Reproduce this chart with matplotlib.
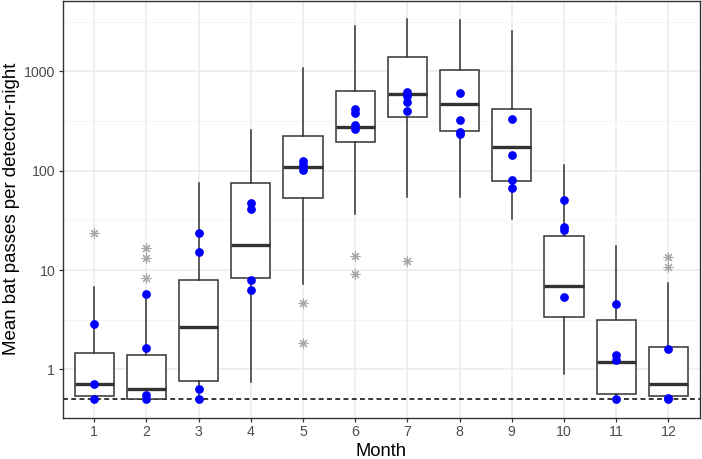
import matplotlib
matplotlib.use("Agg")
import matplotlib.pyplot as plt
from matplotlib.ticker import FixedLocator, NullFormatter

plt.rcParams['font.family'] = ['Liberation Sans', 'DejaVu Sans']

months = list(range(1, 13))

# box statistics
q1 = [0.54, 0.50, 0.76, 8.4, 53, 196, 350, 253, 78, 3.39, 0.57, 0.54]
med = [0.72, 0.63, 2.65, 18, 109, 276, 592, 470, 172, 6.9, 1.18, 0.72]
q3 = [1.47, 1.38, 7.9, 76, 224, 630, 1406, 1026, 415, 22, 3.13, 1.66]
whislo = [0.50, 0.50, 0.50, 0.74, 7.3, 36.4, 54.7, 54.7, 32.4, 0.90, 0.50, 0.50]
whishi = [6.7, 5.8, 75, 257, 1089, 2865, 3350, 3300, 2553, 114, 17.6, 7.45]
outliers = [[23.5], [16.8, 13.3, 8.4], [], [], [4.7, 1.83], [13.8, 9.1],
            [12.4], [], [], [], [], [13.6, 10.8]]

# highlighted site values (blue)
sites = [[2.88, 0.72, 0.50],
         [5.77, 1.65, 0.55, 0.50],
         [23.8, 15.1, 0.63, 0.50],
         [47, 40.8, 7.9, 6.3],
         [125, 113, 102],
         [420, 380, 285, 260],
         [620, 560, 496, 403],
         [611, 322, 247, 233],
         [330, 143, 80, 66.5],
         [51, 27, 25.5, 5.35],
         [4.58, 1.39, 1.24, 0.50],
         [1.59, 0.52, 0.50]]

detection_limit = 0.5

fig = plt.figure(figsize=(7.02, 4.59), dpi=100)
ax = fig.add_axes([0.0897, 0.09, 0.907, 0.908])

stats = []
for i in range(len(months)):
    stats.append(dict(med=med[i], q1=q1[i], q3=q3[i], whislo=whislo[i],
                      whishi=whishi[i], fliers=[]))

dark = '#333333'
ax.bxp(stats, positions=months, widths=0.75, showcaps=False, showfliers=False,
       patch_artist=True,
       boxprops=dict(facecolor='white', edgecolor=dark, linewidth=1.1),
       whiskerprops=dict(color=dark, linewidth=1.1),
       medianprops=dict(color=dark, linewidth=2.4, solid_capstyle='butt'),
       zorder=3)

# outliers drawn as grey asterisks
for m, vals in zip(months, outliers):
    ax.plot([m] * len(vals), vals, linestyle='none', marker=(8, 2, 0),
            markersize=7, markeredgecolor='#a6a6a6', markeredgewidth=0.8,
            zorder=4)

for m, vals in zip(months, sites):
    ax.plot([m] * len(vals), vals, linestyle='none', marker='o',
            markersize=6.3, color='#0000ff', markeredgewidth=0, zorder=5)

ax.axhline(detection_limit, color='black', linestyle=(0, (3.2, 2.2)),
           linewidth=1.1, zorder=2)

ax.set_yscale('log')
ax.set_ylim(0.326, 5115)
ax.set_xlim(0.4, 12.6)

ax.yaxis.set_major_locator(FixedLocator([1, 10, 100, 1000]))
ax.yaxis.set_minor_locator(FixedLocator([10 ** 0.5, 10 ** 1.5, 10 ** 2.5, 10 ** 3.5]))
ax.yaxis.set_minor_formatter(NullFormatter())
ax.set_yticklabels(['1', '10', '100', '1000'])
ax.set_xticks(months)
ax.set_xticklabels([str(m) for m in months])

ax.grid(True, which='major', color='#ebebeb', linewidth=1.1, zorder=0)
ax.grid(True, which='minor', axis='y', color='#f2f2f2', linewidth=0.6, zorder=0)
ax.set_axisbelow(True)

for s in ax.spines.values():
    s.set_color(dark)
    s.set_linewidth(1.0)

ax.tick_params(which='major', length=3, width=0.9, color=dark,
               labelcolor='#4d4d4d', labelsize=10.2, pad=2.5)
ax.tick_params(which='minor', length=0)

ax.set_xlabel('Month', fontsize=13.2, labelpad=3)
ax.set_ylabel('Mean bat passes per detector-night', fontsize=13.4, labelpad=3)

fig.savefig('out.png', dpi=100)
